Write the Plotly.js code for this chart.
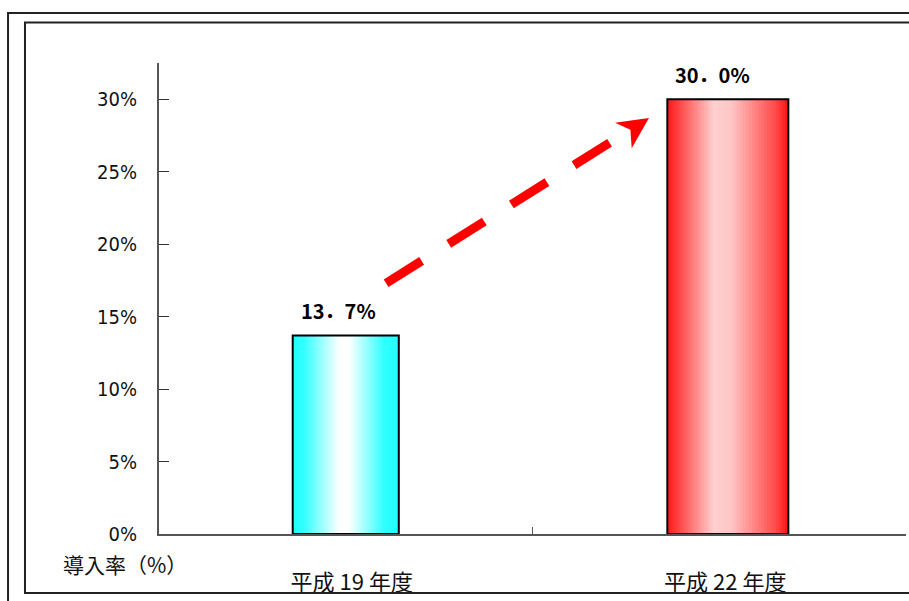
<!DOCTYPE html>
<html>
<head>
<meta charset="utf-8">
<script src="https://cdn.plot.ly/plotly-3.0.1.min.js"></script>
<style>html,body{margin:0;padding:0;background:#fff;}#chart{width:909px;height:601px;}</style>
</head>
<body>
<div id="chart"></div>
<script>
// ---- data ----
const categories = ['平成 19 年度', '平成 22 年度'];
const values = [13.7, 30.0];
const valueLabels = ['13．7%', '30．0%'];
const yTickVals = [0, 5, 10, 15, 20, 25, 30];
const yTickText = ['0%', '5%', '10%', '15%', '20%', '25%', '30%'];
const yAxisLabel = '導入率（%）';

// ---- style ----
const barWidths = [0.284, 0.324];
const barOffsets = [-0.142, -0.139];
const gradients = [
  [[0, [32,255,255]], [0.1, [48,255,255]], [0.44, [255,255,255]], [0.53, [255,255,255]], [0.86, [48,255,255]], [1, [32,255,255]]],
  [[0, [255,26,26]], [0.06, [255,51,51]], [0.38, [255,206,206]], [0.52, [255,200,200]], [0.9, [255,72,72]], [1, [255,16,16]]]
];
function gradColor(stops, t) {
  for (let i = 1; i < stops.length; i++) {
    if (t <= stops[i][0]) {
      const a = stops[i-1], b = stops[i];
      const f = (t - a[0]) / (b[0] - a[0] || 1);
      const c = a[1].map((v, j) => Math.round(v + (b[1][j] - v) * f));
      return 'rgb(' + c.join(',') + ')';
    }
  }
  return 'rgb(' + stops[stops.length-1][1].join(',') + ')';
}

const N = 40;
const traces = [];
for (let k = 0; k < N; k++) {
  const t = (k + 0.5) / N;
  traces.push({
    type: 'bar', x: categories, y: values,
    offset: barOffsets.map((o, i) => o + k * barWidths[i] / N),
    width: barWidths.map(w => w * (N - k) / N),
    marker: { color: gradients.map(g => gradColor(g, t)), line: { width: 0 } },
    hoverinfo: 'skip', showlegend: false
  });
}
traces.push({
  type: 'bar', x: categories, y: values,
  offset: barOffsets, width: barWidths,
  marker: { color: 'rgba(0,0,0,0)', line: { width: 2, color: '#000' } },
  hoverinfo: 'skip', showlegend: false
});

const annotations = categories.map((c, i) => ({
  x: c, y: values[i], xref: 'x', yref: 'y',
  text: valueLabels[i], showarrow: false,
  yanchor: 'bottom', xanchor: 'center', xshift: -7, yshift: 8,
  font: { family: 'Noto Sans CJK JP', size: 20, color: '#000', weight: 'bold' }
}));
annotations.push({
  x: -0.131, y: -0.064, xref: 'paper', yref: 'paper',
  text: yAxisLabel, showarrow: false, xanchor: 'left', yanchor: 'middle',
  font: { family: 'Noto Sans CJK JP', size: 21, color: '#111' }
});

const shapes = [
  // outer frame
  { type: 'rect', xref: 'paper', yref: 'paper', x0: -0.2021, x1: 1.03, y0: -0.17, y1: 1.1062,
    line: { color: '#222', width: 2 }, fillcolor: 'rgba(0,0,0,0)' },
  // inner frame
  { type: 'rect', xref: 'paper', yref: 'paper', x0: -0.1794, x1: 1.03, y0: -0.1253, y1: 1.0860,
    line: { color: '#222', width: 2 }, fillcolor: 'rgba(0,0,0,0)' },
  // dashed arrow shaft
  { type: 'line', xref: 'x2', yref: 'y', x0: 0.108, y0: values[0] + 3.6, x1: 0.762, y1: values[1] - 2.1,
    line: { color: '#ff0000', width: 9, dash: '42px,32px' } },
  // arrow head
  { type: 'path', xref: 'x2', yref: 'y',
    path: 'M 0.8119 28.71 L 0.7209 28.38 L 0.7621 27.90 L 0.7656 26.61 Z',
    fillcolor: '#ff0000', line: { width: 0 } }
];

const layout = {
  width: 909, height: 601,
  margin: { l: 159, r: 3, t: 63, b: 67 },
  paper_bgcolor: '#fff', plot_bgcolor: '#fff',
  barmode: 'overlay',
  showlegend: false,
  xaxis: {
    type: 'category', categoryorder: 'array', categoryarray: categories,
    range: [-0.5, 1.5], tickson: 'boundaries', ticks: 'inside', ticklen: 7, tickwidth: 1, tickcolor: '#555',
    showline: true, linecolor: '#555', linewidth: 2, showgrid: false, zeroline: false,
    ticklabelstandoff: 28, ticklabelshift: 6,
    tickfont: { family: 'Noto Sans CJK JP', size: 22, color: '#111' }
  },
  xaxis2: { overlaying: 'x', range: [-0.5, 1.5], visible: false, showgrid: false, zeroline: false },
  yaxis: {
    range: [0, 32.5], tickvals: yTickVals, ticktext: yTickText,
    ticks: 'inside', ticklen: 10, tickwidth: 1, tickcolor: '#333',
    showline: true, linecolor: '#555', linewidth: 2, showgrid: false, zeroline: false,
    ticklabelstandoff: 16,
    tickfont: { family: 'Liberation Sans Narrow, DejaVu Sans Condensed, Arial', size: 20, color: '#111' }
  },
  annotations: annotations,
  shapes: shapes
};

Plotly.newPlot('chart', traces, layout, { displayModeBar: false, staticPlot: true });
</script>
</body>
</html>
